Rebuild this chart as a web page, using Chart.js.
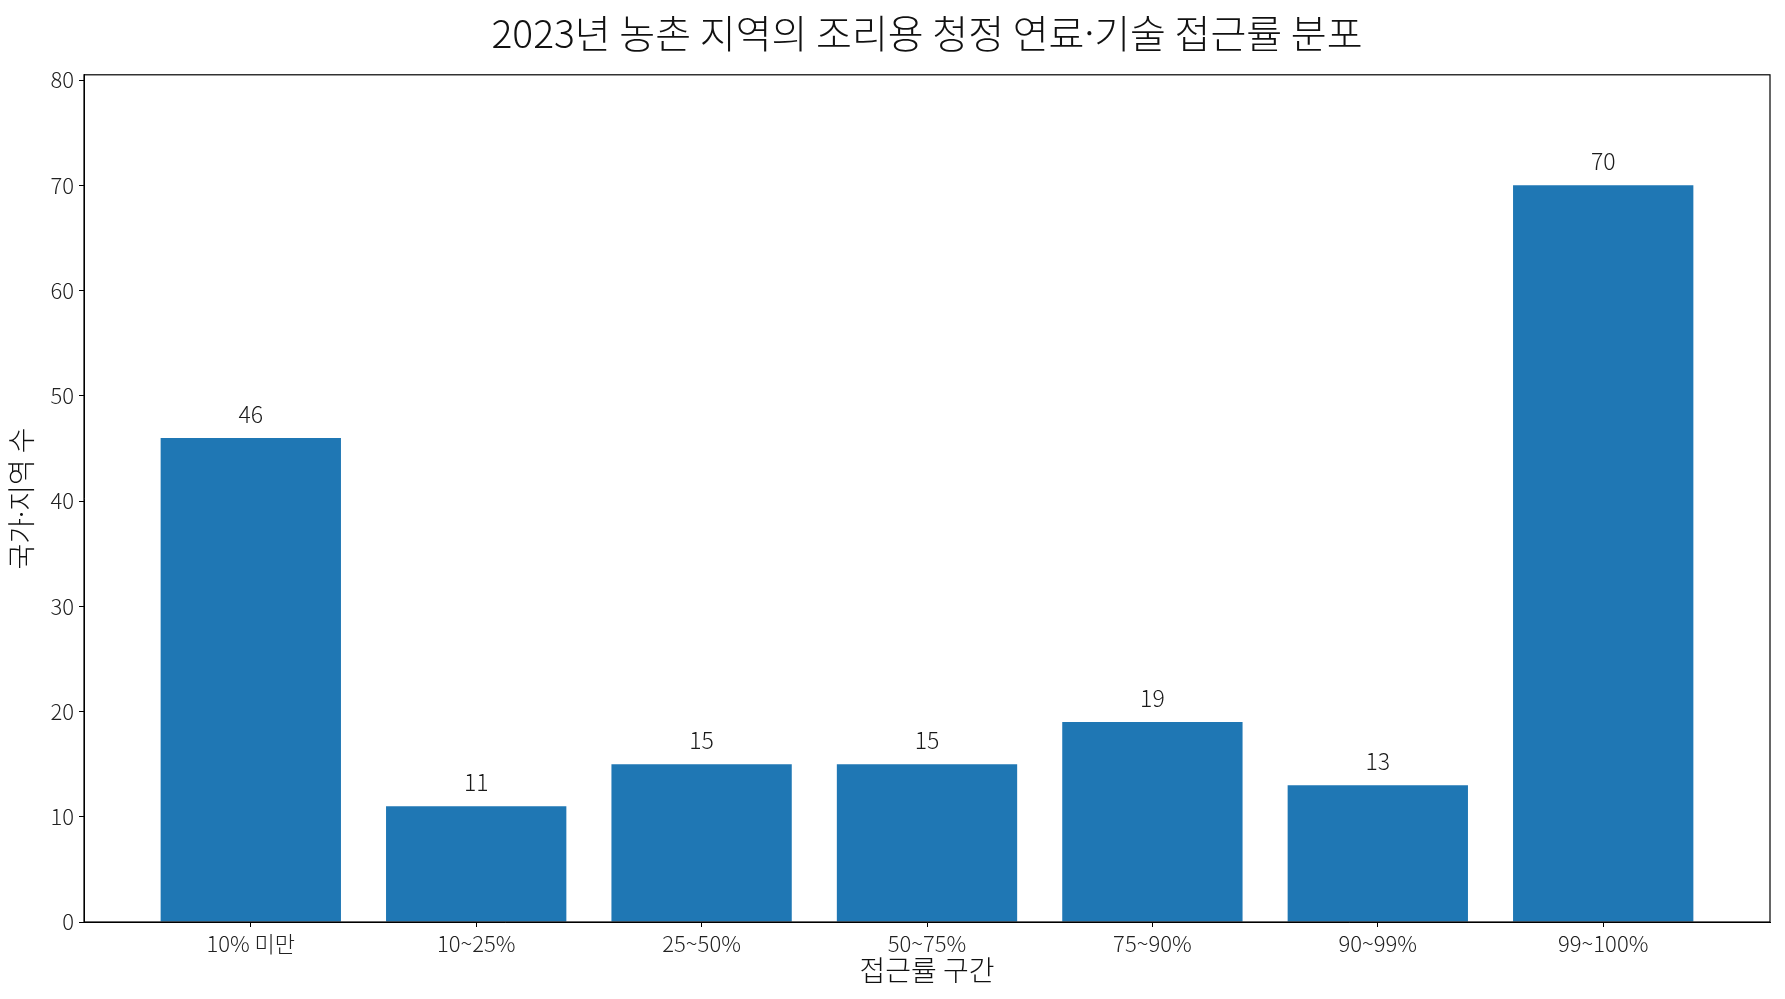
<!DOCTYPE html>
<html lang="ko">
<head>
<meta charset="utf-8">
<title>2023년 농촌 지역의 조리용 청정 연료·기술 접근률 분포</title>
<script src="https://cdn.jsdelivr.net/npm/chart.js@4.4.1/dist/chart.umd.min.js"></script>
<style>
    html, body { margin: 0; padding: 0; background: #fff; }
    #wrap { width: 1785px; height: 999px; }
</style>
</head>
<body>
<div id="wrap"><canvas id="accessChart" width="1785" height="999"></canvas></div>
<script>
const categories = ['10% 미만', '10~25%', '25~50%', '50~75%', '75~90%', '90~99%', '99~100%'];
const countryCounts = [46, 11, 15, 15, 19, 13, 70];
const yTicks = [0, 10, 20, 30, 40, 50, 60, 70, 80];

const fontFamily = '"Noto Sans CJK KR", "Noto Sans", sans-serif';
const barColor = '#1f77b4';

// box around plot area + value labels above bars
const frame = {
    id: 'frame',
    afterDatasetsDraw(chart) {
        const { ctx, chartArea: a } = chart;
        ctx.save();
        ctx.strokeStyle = '#000';
        ctx.lineWidth = 1.2;
        ctx.strokeRect(a.left, a.top, a.right - a.left, a.bottom - a.top);

        ctx.fillStyle = '#1a1a1a';
        ctx.font = '300 23px ' + fontFamily;
        ctx.textAlign = 'center';
        ctx.textBaseline = 'alphabetic';
        chart.getDatasetMeta(0).data.forEach((bar, i) => {
            ctx.fillText(String(countryCounts[i]), bar.x, bar.y - 15);
        });
        ctx.restore();
    }
};

const ctx = document.getElementById('accessChart').getContext('2d');
const chart = new Chart(ctx, {
    type: 'bar',
    data: {
        datasets: [{
            data: countryCounts.map((v, i) => ({ x: i, y: v })),
            backgroundColor: barColor,
            borderWidth: 0,
            categoryPercentage: 0.8,
            barPercentage: 1
        }]
    },
    options: {
        responsive: false,
        animation: false,
        layout: { padding: { left: 0, right: 15, top: 0, bottom: 0 } },
        plugins: {
            legend: { display: false },
            tooltip: { enabled: false },
            title: {
                display: true,
                fullSize: false,
                text: '2023년 농촌 지역의 조리용 청정 연료·기술 접근률 분포',
                color: '#111',
                font: { family: fontFamily, size: 39, weight: 300, lineHeight: 1.2 },
                padding: { top: 10, bottom: 18 }
            }
        },
        scales: {
            x: {
                type: 'linear',
                offset: false,
                min: -0.74,
                max: 6.74,
                afterBuildTicks(scale) {
                    scale.ticks = categories.map((c, i) => ({ value: i }));
                },
                afterFit(scale) { scale.height = 77; },
                ticks: {
                    callback: (v) => categories[v],
                    color: '#222',
                    font: { family: fontFamily, size: 22, weight: 300 },
                    padding: 3,
                    maxRotation: 0,
                    autoSkip: false
                },
                grid: { display: true, offset: false, drawOnChartArea: false, drawTicks: true, tickLength: 5, color: '#000' },
                border: { display: true, color: '#000' },
                title: {
                    display: true,
                    text: '접근률 구간',
                    color: '#111',
                    font: { family: fontFamily, size: 28, weight: 300 },
                    padding: { top: 0, bottom: 12 }
                }
            },
            y: {
                min: 0,
                max: 80.5,
                afterBuildTicks(scale) {
                    scale.ticks = yTicks.map(v => ({ value: v }));
                },
                afterFit(scale) { scale.width = 84; },
                ticks: {
                    color: '#222',
                    font: { family: fontFamily, size: 22, weight: 300 },
                    padding: 5
                },
                grid: { display: true, drawOnChartArea: false, drawTicks: true, tickLength: 5, color: '#000' },
                border: { display: true, color: '#000' },
                title: {
                    display: true,
                    text: '국가·지역 수',
                    color: '#111',
                    font: { family: fontFamily, size: 28, weight: 300 },
                    padding: { top: 5, bottom: 0 }
                }
            }
        }
    },
    plugins: [frame]
});
</script>
</body>
</html>
